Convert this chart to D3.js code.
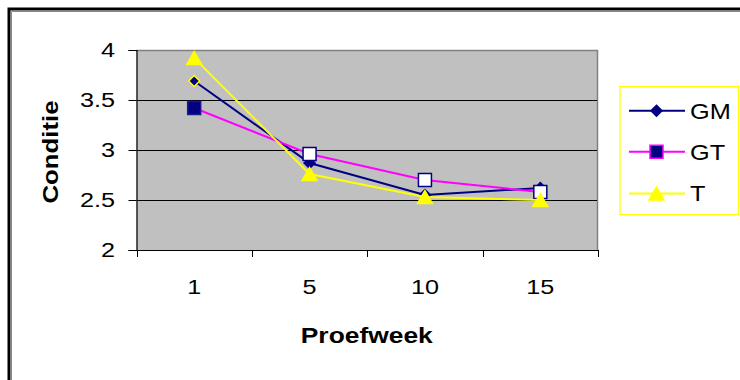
<!DOCTYPE html>
<html>
<head>
<meta charset="utf-8">
<script src="https://cdn.jsdelivr.net/npm/d3@7"></script>
<style>
html,body{margin:0;padding:0;background:#fff;}
svg{display:block;}
text{font-family:"Liberation Sans",Arial,sans-serif;}
</style>
</head>
<body>
<svg id="chart" width="740" height="380"></svg>
<script>
// ---- data ----
const categories = ["1", "5", "10", "15"];
const seriesNames = ["GM", "GT", "T"];
const gmValues = [3.69, 2.87, 2.55, 2.62];
const gtValues = [3.42, 2.96, 2.70, 2.58];
const tValues  = [3.92, 2.76, 2.53, 2.50];
const yTicks = [2, 2.5, 3, 3.5, 4];
const xTitle = "Proefweek";
const yTitle = "Conditie";

// ---- styles ----
const navy = "#000080", magenta = "#ff00ff", yellow = "#ffff00";
const stretch = 1.2; // text in the reference is rendered wider along its baseline
const series = [
  {name: seriesNames[0], values: gmValues, color: navy, shape: "diamond",
   fill: [navy, navy, navy, navy], stroke: [yellow, navy, navy, navy],
   legFill: navy, legStroke: navy},
  {name: seriesNames[1], values: gtValues, color: magenta, shape: "square",
   fill: [navy, "#fff", "#fff", "#fff"], stroke: ["#1a1a90", navy, navy, navy],
   legFill: navy, legStroke: magenta},
  {name: seriesNames[2], values: tValues, color: yellow, shape: "triangle",
   fill: [yellow, yellow, yellow, yellow], stroke: [yellow, yellow, yellow, yellow],
   legFill: yellow, legStroke: yellow}
];

function markerPath(shape) {
  if (shape === "diamond") { const r = 5.5; return `M0,${-r}L${r},0L0,${r}L${-r},0Z`; }
  if (shape === "square") { const r = 6.5; return `M${-r},${-r}H${r}V${r}H${-r}Z`; }
  const w = 7.5, h = 13;
  return `M0,${-h/2}L${w},${h/2}L${-w},${h/2}Z`;
}

const svg = d3.select("#chart");

// outer frame
svg.append("rect").attr("x", 9).attr("y", 9).attr("width", 900).attr("height", 600)
  .attr("fill", "#fff").attr("stroke", "#000").attr("stroke-width", 3);
svg.append("path").attr("d", "M11.5,700V11.5H900").attr("fill", "none")
  .attr("stroke", "#888").attr("stroke-width", 1);

const plot = {left: 136.5, right: 598, top: 50, bottom: 250};
const x = d3.scaleBand().domain(categories).range([plot.left, plot.right]);
const y = d3.scaleLinear().domain([2, 4]).range([plot.bottom, plot.top]);

// plot area
svg.append("rect").attr("x", plot.left).attr("y", plot.top)
  .attr("width", plot.right - plot.left).attr("height", plot.bottom - plot.top)
  .attr("fill", "#c0c0c0");
svg.append("path")
  .attr("d", `M${plot.left},${plot.top + 0.5}H${plot.right - 0.5}V${plot.bottom}`)
  .attr("fill", "none").attr("stroke", "#808080").attr("stroke-width", 1.5);

// gridlines
svg.append("g").selectAll("line").data(yTicks.filter(t => t > 2 && t < 4)).join("line")
  .attr("x1", plot.left).attr("x2", plot.right - 1)
  .attr("y1", d => Math.round(y(d)) + 0.5).attr("y2", d => Math.round(y(d)) + 0.5)
  .attr("stroke", "#000").attr("stroke-width", 1);

// y axis
const yAxis = svg.append("g").attr("transform", `translate(${plot.left},0)`)
  .call(d3.axisLeft(y).tickValues(yTicks).tickFormat(d3.format("")).tickSize(8).tickPadding(12));
yAxis.select(".domain").attr("stroke", "#000").attr("stroke-width", 1.2);
yAxis.selectAll(".tick line").attr("stroke", "#000");
yAxis.selectAll("text").attr("font-size", 21).attr("fill", "#000")
  .attr("x", 0).attr("transform", `translate(-21.5,0) scale(${stretch},1)`)
  .style("font-family", "'Liberation Sans',Arial,sans-serif");

// x axis
const xAxis = svg.append("g").attr("transform", `translate(0,${plot.bottom})`)
  .call(d3.axisBottom(x).tickSize(0).tickPadding(29));
xAxis.select(".domain").attr("stroke", "#000").attr("stroke-width", 1.2);
xAxis.selectAll("text").attr("font-size", 21).attr("fill", "#000")
  .attr("transform", `scale(${stretch},1)`)
  .style("font-family", "'Liberation Sans',Arial,sans-serif");
const bounds = categories.map(c => x(c)).concat([x(categories[categories.length - 1]) + x.bandwidth()]);
xAxis.append("g").selectAll("line").data(bounds).join("line")
  .attr("x1", d => Math.round(d) + 0.5).attr("x2", d => Math.round(d) + 0.5)
  .attr("y1", 0).attr("y2", 7).attr("stroke", "#000");

// axis titles
svg.append("text")
  .attr("transform", `translate(${(plot.left + plot.right) / 2 - 0.5},343) scale(${stretch},1)`)
  .attr("text-anchor", "middle").attr("font-size", 22).attr("font-weight", "bold")
  .text(xTitle);
svg.append("text").attr("transform", "translate(58,152) rotate(-90) scale(1.17,1)")
  .attr("text-anchor", "middle").attr("font-size", 22).attr("font-weight", "bold")
  .text(yTitle);

// series
const cx = c => x(c) + x.bandwidth() / 2;
const line = d3.line().x((d, i) => cx(categories[i])).y(d => y(d));
series.forEach(s => {
  const g = svg.append("g");
  g.append("path").datum(s.values).attr("d", line)
    .attr("fill", "none").attr("stroke", s.color).attr("stroke-width", 2);
  g.selectAll("path.m").data(s.values).join("path").attr("class", "m")
    .attr("d", markerPath(s.shape))
    .attr("transform", (d, i) => `translate(${cx(categories[i])},${y(d)})`)
    .attr("fill", (d, i) => s.fill[i]).attr("stroke", (d, i) => s.stroke[i])
    .attr("stroke-width", 1.5);
});

// legend
const leg = svg.append("g");
leg.append("rect").attr("x", 620).attr("y", 86.5).attr("width", 118.5).attr("height", 128)
  .attr("fill", "#fff").attr("stroke", yellow).attr("stroke-width", 1.2);
const legY = [110.7, 151.7, 193.5];
series.forEach((s, i) => {
  const gy = legY[i];
  leg.append("line").attr("x1", 629).attr("x2", 685).attr("y1", gy).attr("y2", gy)
    .attr("stroke", s.color).attr("stroke-width", 2);
  leg.append("path").attr("d", markerPath(s.shape))
    .attr("transform", `translate(656.5,${gy})`)
    .attr("fill", s.legFill).attr("stroke", s.legStroke).attr("stroke-width", 1.5);
  leg.append("text").attr("transform", `translate(690,${gy}) scale(1.15,1)`)
    .attr("dy", "0.36em").attr("font-size", 22).text(s.name);
});
</script>
</body>
</html>
